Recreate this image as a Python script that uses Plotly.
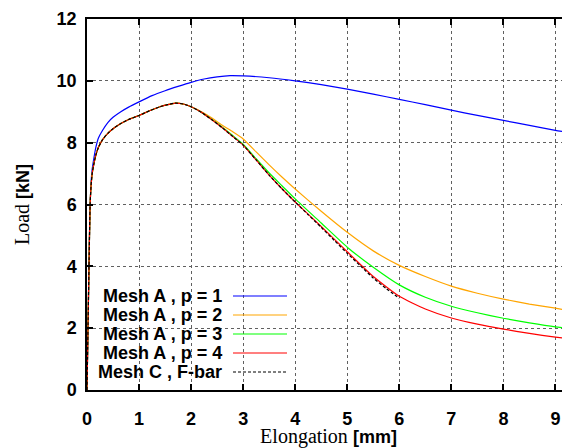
import plotly.graph_objects as go

# ---- data ----
x_p1 = [0, 0.02, 0.04, 0.06, 0.08, 0.1, 0.13, 0.17, 0.22, 0.3, 0.4, 0.5, 0.65, 0.8, 1.0,
        1.25, 1.5, 1.75, 2.0, 2.25, 2.5, 2.75, 3.0, 3.5, 4.0, 4.5, 5.0, 5.5, 6.0, 6.5,
        7.0, 7.5, 8.0, 8.5, 9.0, 9.28]
y_p1 = [0, 2.1, 4.2, 6.0, 6.75, 7.15, 7.48, 7.85, 8.15, 8.4, 8.65, 8.82, 9.0, 9.15, 9.32,
        9.52, 9.68, 9.82, 9.95, 10.06, 10.13, 10.17, 10.16, 10.1, 10.0, 9.88, 9.73, 9.57,
        9.4, 9.23, 9.05, 8.88, 8.72, 8.56, 8.4, 8.33]

x_common = [0, 0.02, 0.04, 0.06, 0.08, 0.1, 0.13, 0.17, 0.22, 0.3, 0.4, 0.5, 0.65, 0.8,
            1.0, 1.2, 1.4, 1.55, 1.7, 1.85, 2.0]
y_common = [0, 2.1, 4.2, 6.0, 6.65, 7.0, 7.3, 7.6, 7.85, 8.1, 8.3, 8.45, 8.62, 8.75,
            8.88, 9.03, 9.16, 9.23, 9.28, 9.25, 9.16]

x_p2 = [2.2, 2.4, 2.6, 2.8, 3.0, 3.25, 3.5, 3.75, 4.0, 4.5, 5.0, 5.5, 6.0, 6.5, 7.0,
        7.5, 8.0, 8.5, 9.0, 9.28]
y_p2 = [9.0, 8.8, 8.56, 8.35, 8.12, 7.7, 7.28, 6.88, 6.5, 5.78, 5.1, 4.5, 4.03, 3.67,
        3.36, 3.13, 2.94, 2.78, 2.65, 2.56]

x_p3 = [2.2, 2.4, 2.6, 2.8, 3.0, 3.25, 3.5, 3.75, 4.0, 4.5, 5.0, 5.5, 6.0, 6.5, 7.0,
        7.5, 8.0, 8.5, 9.0, 9.28]
y_p3 = [8.98, 8.75, 8.5, 8.23, 7.95, 7.48, 7.02, 6.6, 6.18, 5.4, 4.62, 3.97, 3.4, 3.0,
        2.71, 2.5, 2.32, 2.17, 2.04, 1.99]

x_p4 = [2.2, 2.4, 2.6, 2.8, 3.0, 3.25, 3.5, 3.75, 4.0, 4.5, 5.0, 5.5, 6.0, 6.5, 7.0,
        7.5, 8.0, 8.5, 9.0, 9.28]
y_p4 = [8.98, 8.74, 8.48, 8.2, 7.92, 7.44, 6.95, 6.5, 6.08, 5.29, 4.47, 3.67, 3.03, 2.62,
        2.33, 2.13, 1.97, 1.83, 1.71, 1.65]

x_fbar = [2.2, 2.4, 2.6, 2.8, 3.0, 3.25, 3.5, 3.75, 4.0, 4.25, 4.5, 4.75, 5.0, 5.25,
          5.5, 5.75, 6.0]
y_fbar = [8.98, 8.74, 8.48, 8.2, 7.92, 7.44, 6.95, 6.5, 6.08, 5.67, 5.26, 4.84, 4.42,
          4.02, 3.62, 3.28, 2.97]

names = ["Mesh A , p = 1", "Mesh A , p = 2", "Mesh A , p = 3", "Mesh A , p = 4",
         "Mesh C , F-bar"]
colors = ["#0000ff", "#ffa500", "#00ff00", "#ff0000", "#000000"]
dashes = ["solid", "solid", "solid", "solid", "3px,2px"]

series = [
    (x_p1, y_p1),
    (x_common + x_p2, y_common + y_p2),
    (x_common + x_p3, y_common + y_p3),
    (x_common + x_p4, y_common + y_p4),
    (x_common + x_fbar, y_common + y_fbar),
]

x_ticks = list(range(0, 10))
y_ticks = list(range(0, 13, 2))

# ---- figure ----
OFF = 8  # page body margin of the browser
W, H = 570 - OFF, 448 - OFF
L, R, T, B = 87 - OFF, 0, 19 - OFF, 58
PW, PH = W - L - R, H - T - B

def px_x(p):  # page pixel -> paper fraction
    return (p - OFF - L) / PW

def px_y(p):
    return (H - B - (p - OFF)) / PH

fig = go.Figure()
for (xs, ys), nm, col, ds in zip(series, names, colors, dashes):
    fig.add_trace(go.Scatter(x=xs, y=ys, mode="lines", name=nm,
                             line=dict(color=col, width=1.2, dash=ds,
                                       shape="spline", smoothing=0.5),
                             showlegend=False))

# legend (gnuplot style: text right-justified, sample on the right)
shapes = [dict(type="rect", xref="paper", yref="paper", layer="between",
               x0=px_x(95), x1=px_x(293), y0=px_y(383), y1=px_y(283),
               fillcolor="white", line=dict(width=0))]
annotations = []
for i, (nm, col, ds) in enumerate(zip(names, colors, dashes)):
    yc = px_y(296 + 19 * i)
    annotations.append(dict(text="<b>" + nm + "</b>", xref="paper", yref="paper",
                            x=px_x(224), y=yc, xanchor="right", yanchor="middle",
                            showarrow=False,
                            font=dict(family="Liberation Sans", size=18, color="black")))
    shapes.append(dict(type="line", xref="paper", yref="paper", layer="above",
                       x0=px_x(233), x1=px_x(287), y0=yc, y1=yc,
                       line=dict(color=col, width=1.2, dash=ds)))

axis_common = dict(showline=True, linecolor="black", linewidth=1.5, mirror="ticks",
                   ticks="inside", ticklen=6, tickcolor="black", tickwidth=1.5,
                   showgrid=True, gridcolor="#606060", gridwidth=1, griddash="dot",
                   zeroline=False, automargin=False,
                   tickfont=dict(family="Liberation Sans", size=18, color="black",
                                 weight="bold"))

serif = "font-family:Liberation Serif;font-size:20px"
fig.update_layout(
    width=W, height=H,
    margin=dict(l=L, r=R, t=T, b=B),
    plot_bgcolor="white", paper_bgcolor="white",
    xaxis=dict(range=[0, 9.28], tickvals=x_ticks, ticktext=[str(v) for v in x_ticks],
               ticklabelstandoff=12,
               title=dict(text=f"<span style='{serif}'>Elongation</span> <b>[mm]</b>",
                          font=dict(family="Liberation Sans", size=18, color="black"),
                          standoff=6),
               **axis_common),
    yaxis=dict(range=[0, 12], tickvals=y_ticks, ticktext=[str(v) for v in y_ticks],
               ticklabelstandoff=5,
               title=dict(text=f"<span style='{serif}'>Load</span> <b>[kN]</b>",
                          font=dict(family="Liberation Sans", size=18, color="black"),
                          standoff=22),
               **axis_common),
    shapes=shapes,
    annotations=annotations,
    showlegend=False,
)

fig.write_html("out.html")
